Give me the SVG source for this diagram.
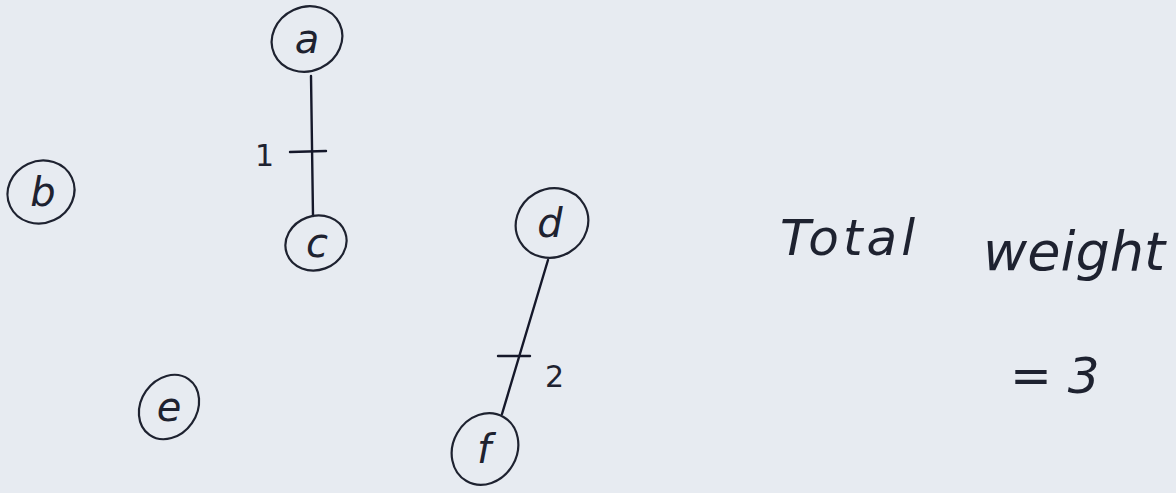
<svg xmlns="http://www.w3.org/2000/svg" width="1176" height="493" viewBox="0 0 1176 493">
<style>
.n ellipse{fill:none;stroke:#1e2230;stroke-width:2.2}
.n text{font-family:"DejaVu Sans",sans-serif;font-size:40px;fill:#1e2230;text-anchor:middle;font-style:italic}
.e{stroke:#15182a;stroke-width:2.4;fill:none;stroke-linecap:round}
.lbl{font-family:"DejaVu Sans",sans-serif;font-size:30px;fill:#1e2230}
.t{font-family:"DejaVu Sans",sans-serif;fill:#1e2230;font-style:italic}
</style>
<rect width="1176" height="493" fill="#e7ebf1"/>
<g id="connectors">
<path class="e" d="M311 76 L313 216"/>
<path class="e" d="M290 152 L326 151"/>
<path class="e" d="M548 260 L502 414"/>
<path class="e" d="M498 356 L530 356"/>
</g>
<g id="edge-labels">
<text class="lbl" x="255" y="166">1</text>
<text class="lbl" x="545" y="387">2</text>
</g>
<g id="node-a" class="n"><ellipse cx="307" cy="39" rx="36" ry="32" transform="rotate(-25 307 39)"/><text x="307" y="53">a</text></g>
<g id="node-b" class="n"><ellipse cx="41" cy="192" rx="34" ry="31" transform="rotate(-25 41 192)"/><text x="43" y="206">b</text></g>
<g id="node-c" class="n"><ellipse cx="316" cy="243" rx="31" ry="27" transform="rotate(-20 316 243)"/><text x="317" y="257">c</text></g>
<g id="node-d" class="n"><ellipse cx="552" cy="223" rx="37" ry="34" transform="rotate(-30 552 223)"/><text x="550" y="237">d</text></g>
<g id="node-e" class="n"><ellipse cx="169" cy="407" rx="34" ry="28" transform="rotate(-55 169 407)"/><text x="169" y="421">e</text></g>
<g id="node-f" class="n"><ellipse cx="485" cy="449" rx="37" ry="32" transform="rotate(-60 485 449)"/><text x="484" y="463">f</text></g>
<g id="total">
<text class="t" x="780" y="255" font-size="50" letter-spacing="4">Total</text>
<text class="t" x="983" y="270" font-size="54">weight</text>
<text class="t" x="1010" y="393" font-size="50">= 3</text>
</g>
</svg>
